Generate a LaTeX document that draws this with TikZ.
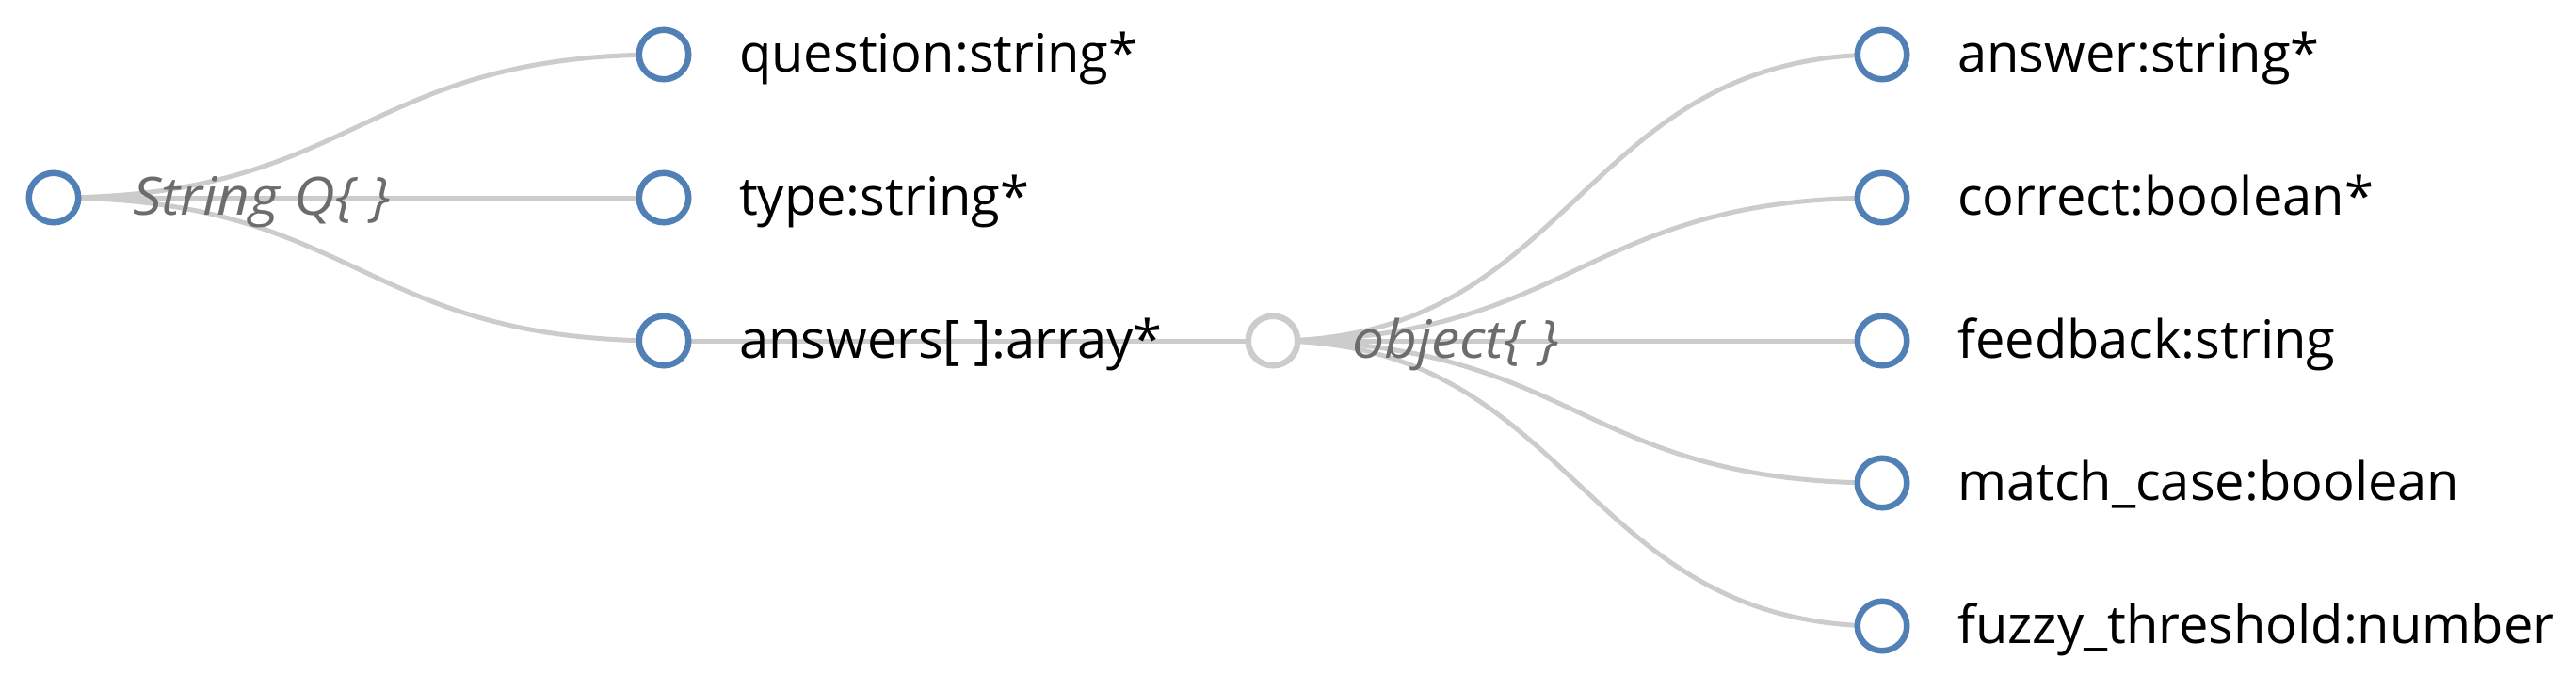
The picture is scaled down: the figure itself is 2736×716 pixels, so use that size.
\documentclass[tikz,border=0pt]{standalone}
\usepackage{fontspec}
\setmainfont{Open Sans}[ItalicFeatures={FakeStretch=1.08}]
\usetikzlibrary{calc,backgrounds}
\definecolor{nodeblue}{HTML}{5180B6}
\definecolor{linkgray}{HTML}{CCCCCC}
\definecolor{labelgray}{HTML}{6C6C6C}
\begin{document}
\begin{tikzpicture}[x=1pt,y=-1pt,
  hlink/.style={draw=linkgray,line width=5pt,
    to path={let \p1=(\tikztostart), \p2=(\tikztotarget) in
      .. controls ({(\x1+\x2)/2},\y1) and ({(\x1+\x2)/2},\y2) .. (\tikztotarget)}},
  dot/.style={circle,draw=nodeblue,line width=6.5pt,fill=white,minimum size=52.5pt,inner sep=0pt},
  graydot/.style={dot,draw=linkgray},
  lab/.style={anchor=base west,inner sep=0pt,text=black,font=\fontsize{56}{66}\selectfont},
  ilab/.style={anchor=base west,inner sep=0pt,text=labelgray,font=\fontsize{56}{66}\selectfont\itshape},
]
\useasboundingbox (0,0) rectangle (2736,716);

% nodes
\node[dot] (root) at (57,210) {};
\node[dot] (q) at (705,58) {};
\node[dot] (t) at (705,210) {};
\node[dot] (a) at (705,362) {};
\node[graydot] (obj) at (1352,362) {};
\node[dot] (ans) at (1999,58) {};
\node[dot] (cor) at (1999,210) {};
\node[dot] (fb) at (1999,362) {};
\node[dot] (mc) at (1999,513) {};
\node[dot] (fz) at (1999,665) {};

% links
\begin{scope}[on background layer]
\draw[hlink] (root.center) to (q.center);
\draw[hlink] (root.center) to (t.center);
\draw[hlink] (root.center) to (a.center);
\draw[hlink] (a.center) to (obj.center);
\draw[hlink] (obj.center) to (ans.center);
\draw[hlink] (obj.center) to (cor.center);
\draw[hlink] (obj.center) to (fb.center);
\draw[hlink] (obj.center) to (mc.center);
\draw[hlink] (obj.center) to (fz.center);
\end{scope}

% labels
\node[ilab] (rootlab) at ([xshift=84pt,yshift=-18pt]root.center) {String Q\{ \}};
\node[ilab] (objlab) at ([xshift=84pt,yshift=-18pt]obj.center) {object\{ \}};
\node[lab] (qlab) at ([xshift=80pt,yshift=-18pt]q.center) {question:string*};
\node[lab] (tlab) at ([xshift=80pt,yshift=-18pt]t.center) {type:string*};
\node[lab] (alab) at ([xshift=80pt,yshift=-18pt]a.center) {answers[ ]:array*};
\node[lab] (anslab) at ([xshift=80pt,yshift=-18pt]ans.center) {answer:string*};
\node[lab] (corlab) at ([xshift=80pt,yshift=-18pt]cor.center) {correct:boolean*};
\node[lab] (fblab) at ([xshift=80pt,yshift=-18pt]fb.center) {feedback:string};
\node[lab] (mclab) at ([xshift=80pt,yshift=-18pt]mc.center) {match\_case:boolean};
\node[lab] (fzlab) at ([xshift=80pt,yshift=-18pt]fz.center) {fuzzy\_threshold:number};
\end{tikzpicture}
\end{document}
